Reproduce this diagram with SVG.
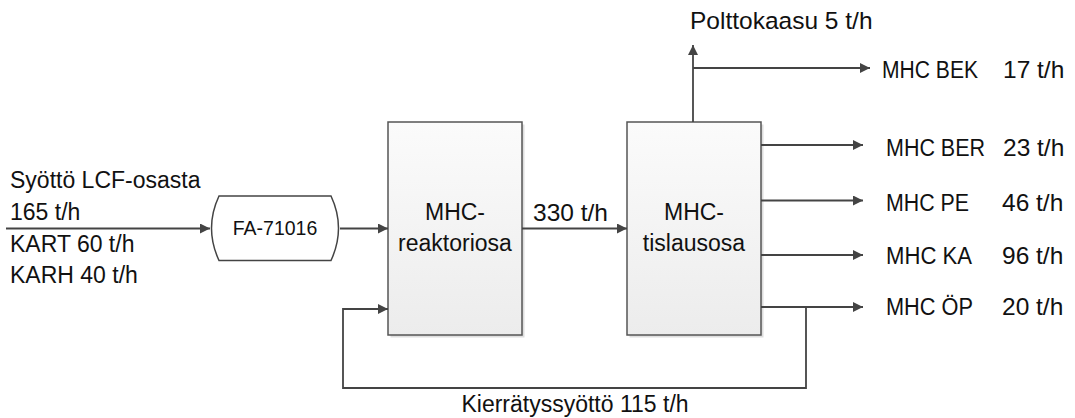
<svg xmlns="http://www.w3.org/2000/svg" width="1075" height="418" viewBox="0 0 1075 418">
  <style>
    text { font-family: "Liberation Sans", Arial, sans-serif; font-size: 23px; fill: #111; }
    .mid { text-anchor: middle; }
    .small { font-size: 19.5px; }
    .big { font-size: 24.5px; }
    .box { fill: url(#boxFill); stroke: #555; stroke-width: 1.5; }
    .shadow { fill: #dedede; }
    .flow { fill: none; stroke: #444; stroke-width: 1.8; }
    .arrow { marker-end: url(#head); }
  </style>
  <defs>
    <linearGradient id="boxFill" x1="0" y1="0" x2="0" y2="1">
      <stop offset="0" stop-color="#fbfbfb"/>
      <stop offset="1" stop-color="#ececec"/>
    </linearGradient>
    <marker id="head" viewBox="0 0 10 10" refX="10" refY="5" markerWidth="10" markerHeight="10" markerUnits="userSpaceOnUse" orient="auto">
      <path d="M0,0 L10,5 L0,10 Z" fill="#444"/>
    </marker>
  </defs>

  <!-- feed labels -->
  <g id="feed">
    <text x="10" y="188">Syöttö LCF-osasta</text>
    <text x="10" y="220">165 t/h</text>
    <text x="10" y="251.5">KART 60 t/h</text>
    <text x="10" y="283">KARH 40 t/h</text>
  </g>

  <!-- feed drum -->
  <g id="fa71016">
    <path d="M219,196 L331,196 Q346,228 331,260.5 L219,260.5 Q204,228 219,196 Z" fill="#fff" stroke="#444" stroke-width="1.5"/>
    <text class="mid small" x="275" y="235">FA-71016</text>
  </g>

  <!-- reactor section -->
  <g id="reactor">
    <rect class="shadow" x="390.5" y="124.5" width="134" height="213"/>
    <rect class="box" x="388" y="122" width="134" height="213"/>
    <text class="mid" x="455" y="220" font-size="24">MHC-</text>
    <text class="mid" x="455" y="251" font-size="24">reaktoriosa</text>
  </g>

  <!-- distillation section -->
  <g id="distillation">
    <rect class="shadow" x="629.5" y="124.5" width="134" height="213"/>
    <rect class="box" x="627" y="122" width="134" height="213"/>
    <text class="mid" x="694" y="220" font-size="24">MHC-</text>
    <text class="mid" x="694" y="251" font-size="24">tislausosa</text>
  </g>

  <!-- product labels -->
  <g id="products">
    <text class="big" x="690" y="29">Polttokaasu 5 t/h</text>
    <text x="882" y="78" textLength="96" lengthAdjust="spacingAndGlyphs">MHC BEK</text>
    <text class="big" x="1003" y="78">17 t/h</text>
    <text x="886" y="155.5" textLength="99" lengthAdjust="spacingAndGlyphs">MHC BER</text>
    <text class="big" x="1003" y="155.5">23 t/h</text>
    <text x="886" y="210.5" textLength="83" lengthAdjust="spacingAndGlyphs">MHC PE</text>
    <text class="big" x="1002" y="210.5">46 t/h</text>
    <text x="886" y="263.5" textLength="86" lengthAdjust="spacingAndGlyphs">MHC KA</text>
    <text class="big" x="1002" y="263.5">96 t/h</text>
    <text x="886" y="315" textLength="87" lengthAdjust="spacingAndGlyphs">MHC ÖP</text>
    <text class="big" x="1002" y="315">20 t/h</text>
  </g>

  <!-- connectors -->
  <g id="connectors">
    <line class="flow arrow" x1="6" y1="228.5" x2="210" y2="228.5"/>
    <line class="flow arrow" x1="340" y1="228.5" x2="388" y2="228.5"/>
    <line class="flow arrow" x1="522" y1="228.5" x2="627" y2="228.5"/>
    <line class="flow arrow" x1="693" y1="122" x2="693" y2="45"/>
    <line class="flow arrow" x1="693" y1="68" x2="870" y2="68"/>
    <line class="flow arrow" x1="761" y1="145" x2="863" y2="145"/>
    <line class="flow arrow" x1="761" y1="200.5" x2="863" y2="200.5"/>
    <line class="flow arrow" x1="761" y1="255" x2="863" y2="255"/>
    <line class="flow arrow" x1="761" y1="307" x2="863" y2="307"/>
    <polyline class="flow arrow" points="806,307 806,388 343,388 343,309 388,309"/>
  </g>

  <!-- recycle label -->
  <g id="recycle">
    <text class="mid" x="575" y="412" font-size="25">Kierrätyssyöttö 115 t/h</text>
  </g>

  <g id="mid-label">
    <text class="big" x="533" y="221">330 t/h</text>
  </g>
</svg>
